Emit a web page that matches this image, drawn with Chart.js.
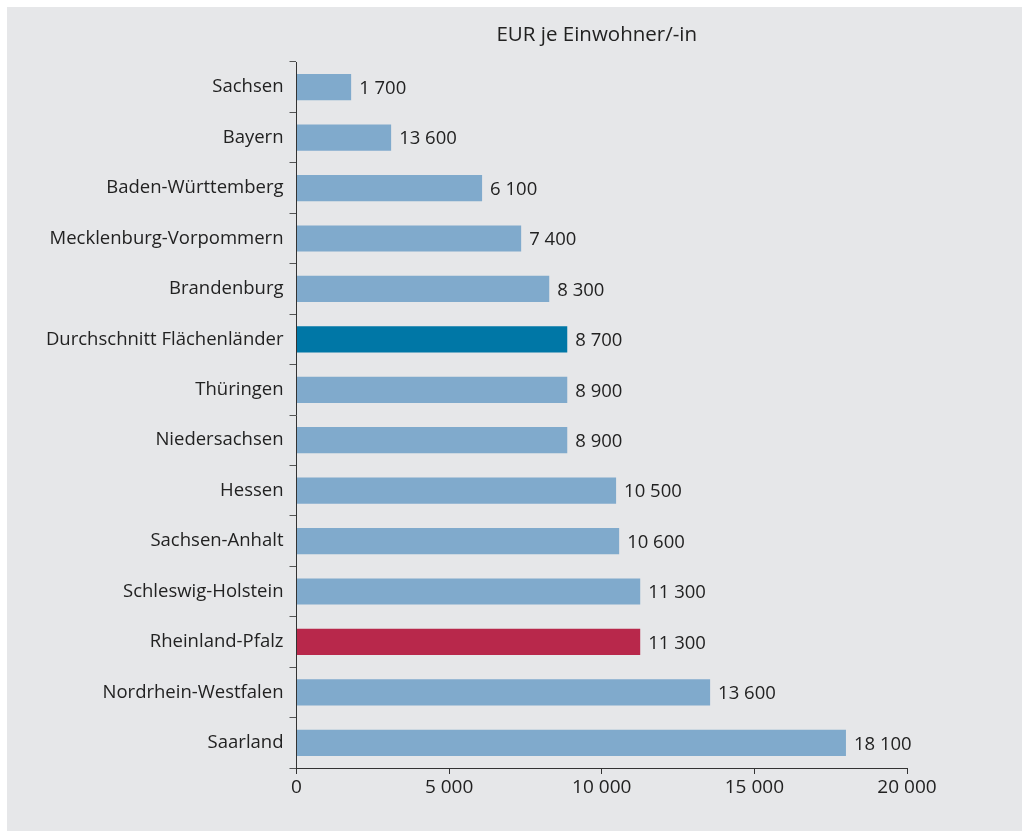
<!DOCTYPE html>
<html>
<head>
<meta charset="utf-8">
<script src="https://cdn.jsdelivr.net/npm/chart.js@4"></script>
<style>
  html, body { margin: 0; padding: 0; background: #ffffff; }
  #panel { position: absolute; left: 7px; top: 7px; width: 1015px; height: 824px; background: #e6e7e9; }
  canvas { display: block; }
</style>
</head>
<body>
<div id="panel"><canvas id="c" width="1015" height="824"></canvas></div>
<script>
const categories = ["Sachsen","Bayern","Baden-Württemberg","Mecklenburg-Vorpommern","Brandenburg","Durchschnitt Flächenländer","Thüringen","Niedersachsen","Hessen","Sachsen-Anhalt","Schleswig-Holstein","Rheinland-Pfalz","Nordrhein-Westfalen","Saarland"];
const values = [1790, 3100, 6080, 7360, 8280, 8870, 8870, 8870, 10470, 10570, 11260, 11260, 13550, 18000];
const valueLabels = ["1 700","13 600","6 100","7 400","8 300","8 700","8 900","8 900","10 500","10 600","11 300","11 300","13 600","18 100"];
const xTicks = [0, 5000, 10000, 15000, 20000];
const title = "EUR je Einwohner/-in";

const FONT = "'Open Sans', sans-serif";
const barColors = categories.map(c => c === "Durchschnitt Flächenländer" ? "#0077a6" : (c === "Rheinland-Pfalz" ? "#b8284b" : "#80aacc"));

const fmt = v => String(v).replace(/\B(?=(\d{3})+(?!\d))/g, " ");

const labelPlugin = {
  id: 'valueLabels',
  afterDatasetsDraw(chart) {
    const ctx = chart.ctx;
    const meta = chart.getDatasetMeta(0);
    ctx.save();
    ctx.font = "18.5px " + FONT;
    ctx.fillStyle = "#222222";
    ctx.textBaseline = "middle";
    ctx.textAlign = "left";
    meta.data.forEach((bar, i) => {
      ctx.fillText(valueLabels[i], bar.x + 8, bar.y + 1.5);
    });
    ctx.restore();
  }
};
const titlePlugin = {
  id: 'topTitle',
  afterDraw(chart) {
    const ctx = chart.ctx;
    const a = chart.chartArea;
    ctx.save();
    ctx.font = "20.5px " + FONT;
    ctx.fillStyle = "#222222";
    ctx.textAlign = "center";
    ctx.textBaseline = "middle";
    ctx.fillText(title, (a.left + a.right) / 2 - 5, 28);
    ctx.restore();
  }
};

new Chart(document.getElementById('c'), {
  type: 'bar',
  data: {
    labels: categories,
    datasets: [{ data: values, backgroundColor: barColors, barPercentage: 0.52, categoryPercentage: 1.0 }]
  },
  options: {
    indexAxis: 'y',
    responsive: false,
    animation: false,
    layout: { padding: { top: 55, right: 115, left: 0, bottom: 0 } },
    plugins: { legend: { display: false }, tooltip: { enabled: false } },
    scales: {
      y: {
        afterFit: s => { s.width = 289.5; },
        grid: { offset: true, drawOnChartArea: false, tickLength: 7, color: "#555555", lineWidth: 1 },
        border: { display: true, color: "#333333", width: 1 },
        ticks: { color: "#222222", font: { family: FONT, size: 18.5 }, padding: 6 }
      },
      x: {
        min: 0, max: 20000,
        afterFit: s => { s.height = 63; },
        afterBuildTicks: s => { s.ticks = xTicks.map(v => ({ value: v })); },
        grid: { drawOnChartArea: false, tickLength: 6, color: "#333333", lineWidth: 1 },
        border: { display: true, color: "#333333", width: 1 },
        ticks: { color: "#222222", font: { family: FONT, size: 19 }, padding: 2, callback: v => fmt(v), maxRotation: 0 }
      }
    }
  },
  plugins: [labelPlugin, titlePlugin]
});
</script>
</body>
</html>
